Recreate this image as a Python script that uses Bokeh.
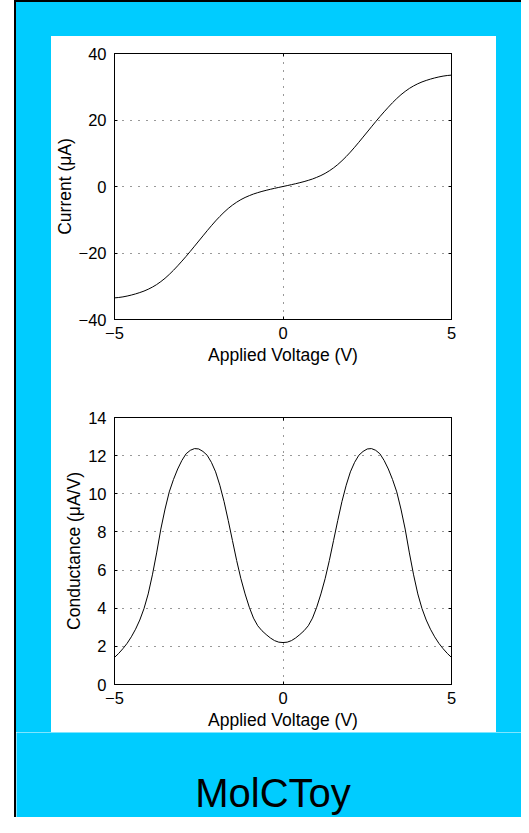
from bokeh.plotting import figure
from bokeh.layouts import row, column
from bokeh.models import Range1d, FixedTicker, LinearAxis, Label, Spacer
from bokeh.embed import file_html
from bokeh.resources import INLINE

# ---------------- data ----------------
voltage = [-5.0, -4.875, -4.75, -4.625, -4.5, -4.375, -4.25, -4.125,
           -4.0, -3.875, -3.75, -3.625, -3.5, -3.375, -3.25, -3.125,
           -3.0, -2.875, -2.75, -2.625, -2.5, -2.375, -2.25, -2.125,
           -2.0, -1.875, -1.75, -1.625, -1.5, -1.375, -1.25, -1.125,
           -1.0, -0.875, -0.75, -0.625, -0.5, -0.375, -0.25, -0.125,
           0.0,
           0.125, 0.25, 0.375, 0.5, 0.625, 0.75, 0.875, 1.0,
           1.125, 1.25, 1.375, 1.5, 1.625, 1.75, 1.875, 2.0,
           2.125, 2.25, 2.375, 2.5, 2.625, 2.75, 2.875, 3.0,
           3.125, 3.25, 3.375, 3.5, 3.625, 3.75, 3.875, 4.0,
           4.125, 4.25, 4.375, 4.5, 4.625, 4.75, 4.875, 5.0]

current = [-33.50, -33.38, -33.20, -32.95, -32.65, -32.30, -31.90, -31.45,
           -30.90, -30.25, -29.50, -28.60, -27.60, -26.45, -25.20, -23.85,
           -22.45, -21.00, -19.50, -17.95, -16.40, -14.85, -13.30, -11.80,
           -10.35, -9.00, -7.75, -6.60, -5.60, -4.72, -3.95, -3.30,
           -2.75, -2.26, -1.85, -1.48, -1.15, -0.84, -0.55, -0.27,
           0.0,
           0.27, 0.55, 0.84, 1.15, 1.48, 1.85, 2.26, 2.75,
           3.30, 3.95, 4.72, 5.60, 6.60, 7.75, 9.00, 10.35,
           11.80, 13.30, 14.85, 16.40, 17.95, 19.50, 21.00, 22.45,
           23.85, 25.20, 26.45, 27.60, 28.60, 29.50, 30.25, 30.90,
           31.45, 31.90, 32.30, 32.65, 32.95, 33.20, 33.38, 33.50]

conductance = [1.42, 1.63, 1.88, 2.16, 2.50, 2.90, 3.38, 3.98,
               4.75, 5.75, 6.90, 8.15, 9.20, 10.10, 10.75, 11.30,
               11.75, 12.10, 12.28, 12.37, 12.35, 12.22, 12.02, 11.65,
               11.15, 10.45, 9.60, 8.60, 7.55, 6.50, 5.55, 4.75,
               4.05, 3.48, 3.08, 2.82, 2.62, 2.44, 2.30, 2.22,
               2.20,
               2.22, 2.30, 2.44, 2.62, 2.82, 3.08, 3.48, 4.05,
               4.75, 5.55, 6.50, 7.55, 8.60, 9.60, 10.45, 11.15,
               11.65, 12.02, 12.22, 12.35, 12.37, 12.28, 12.10, 11.75,
               11.30, 10.75, 10.10, 9.20, 8.15, 6.90, 5.75, 4.75,
               3.98, 3.38, 2.90, 2.50, 2.16, 1.88, 1.63, 1.42]

x_ticks = [-5, 0, 5]
x_tick_labels = ["\u22125", "0", "5"]
current_ticks = [-40, -20, 0, 20, 40]
current_tick_labels = ["\u221240", "\u221220", "0", "20", "40"]
cond_ticks = [0, 2, 4, 6, 8, 10, 12, 14]
cond_tick_labels = ["0", "2", "4", "6", "8", "10", "12", "14"]

x_label = "Applied Voltage (V)"
current_label = "Current (\u03bcA)"
cond_label = "Conductance (\u03bcA/V)"
title_text = "MolCToy"

CYAN = "#00CCFF"
FONT = "Liberation Sans"


def style_axis(ax, ticks, labels, show_labels=True):
    ax.ticker = FixedTicker(ticks=ticks)
    if show_labels:
        ax.major_label_overrides = {t: l for t, l in zip(ticks, labels)}
    else:
        ax.major_label_overrides = {t: "" for t in ticks}
    ax.minor_tick_line_color = None
    ax.major_tick_in = 3
    ax.major_tick_out = 0
    ax.major_tick_line_color = "black"
    ax.axis_line_color = "black"
    ax.major_label_text_font = FONT
    ax.major_label_text_font_size = "16.5px"
    ax.major_label_text_color = "black"
    ax.axis_label_text_font = FONT
    ax.axis_label_text_font_size = "17.5px"
    ax.axis_label_text_font_style = "normal"
    ax.axis_label_text_color = "black"


def make_panel(yvals, ylo, yhi, yticks, ylabels, ylabel, top, bottom):
    p = figure(width=445, height=348, x_range=Range1d(-5, 5),
               y_range=Range1d(ylo, yhi), output_backend="svg",
               toolbar_location=None, min_border_left=63, min_border_right=45,
               min_border_top=top, min_border_bottom=bottom,
               border_fill_color="white", background_fill_color="white",
               outline_line_color="black", outline_line_width=1)
    p.line(voltage, yvals, line_color="black", line_width=1)

    style_axis(p.xaxis[0], x_ticks, x_tick_labels)
    p.xaxis[0].axis_label = x_label
    p.xaxis[0].major_label_standoff = 7
    p.xaxis[0].axis_label_standoff = 3

    style_axis(p.yaxis[0], yticks, ylabels)
    p.yaxis[0].axis_label = ylabel
    p.yaxis[0].major_label_standoff = 8
    p.yaxis[0].axis_label_standoff = 1

    top_ax = LinearAxis()
    style_axis(top_ax, x_ticks, x_tick_labels, show_labels=False)
    top_ax.major_label_standoff = 0
    p.add_layout(top_ax, "above")
    right_ax = LinearAxis()
    style_axis(right_ax, yticks, ylabels, show_labels=False)
    right_ax.major_label_standoff = 0
    p.add_layout(right_ax, "right")

    for g in (p.xgrid[0], p.ygrid[0]):
        g.grid_line_color = "black"
        g.grid_line_alpha = 0.8
        g.grid_line_width = 1
        g.grid_line_dash = "1 7"
    p.xgrid[0].ticker = FixedTicker(ticks=x_ticks)
    p.ygrid[0].ticker = FixedTicker(ticks=yticks)
    return p


p1 = make_panel(current, -40, 40, current_ticks, current_tick_labels,
                current_label, top=17, bottom=65)
p2 = make_panel(conductance, 0, 14, cond_ticks, cond_tick_labels,
                cond_label, top=33, bottom=48)

bottom_fig = figure(width=505, height=85, x_range=Range1d(0, 505),
                    y_range=Range1d(0, 85), output_backend="svg",
                    toolbar_location=None, min_border=0,
                    x_axis_type=None, y_axis_type=None,
                    border_fill_color=CYAN, background_fill_color=CYAN,
                    outline_line_color=None)
bottom_fig.grid.visible = False
bottom_fig.add_layout(Label(x=256.5, y=25, text=title_text, text_font=FONT,
                            text_font_size="40px", text_align="center",
                            text_baseline="alphabetic", text_color="black"))

left_strip = Spacer(width=16, height=817, styles={
    "background": "linear-gradient(to right, #ffffff 0px, #ffffff 14px, #000000 14px, #000000 16px)"})
top_strip = Spacer(width=505, height=36, styles={
    "background": "linear-gradient(to bottom, #000000 0px, #000000 2px, %s 2px, %s 36px)" % (CYAN, CYAN)})
cyan_left = Spacer(width=35, height=696, styles={"background-color": CYAN})
cyan_right = Spacer(width=25, height=696, styles={"background-color": CYAN})

panel = column(p1, p2)
middle = row(cyan_left, panel, cyan_right)
right_col = column(top_strip, middle, bottom_fig)
root = row(left_strip, right_col)

open("out.html", "w").write(file_html(root, INLINE))
